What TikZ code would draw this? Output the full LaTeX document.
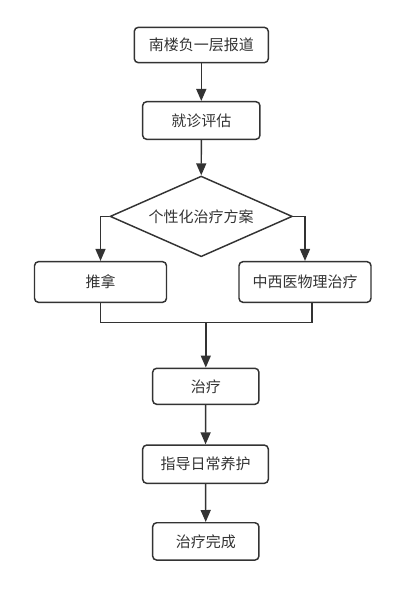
\documentclass[tikz,border=0pt]{standalone}
\usepackage{fontspec}
\setmainfont{Noto Sans CJK SC}
\usetikzlibrary{arrows.meta,shapes.geometric}
\definecolor{linegray}{HTML}{333333}

\begin{document}
\begin{tikzpicture}[x=0.75pt,y=-0.75pt,line width=1.1pt,draw=linegray,
    >={Triangle[length=9pt,width=7.5pt]},
    font=\fontsize{11.25}{13}\selectfont]
          \tikzstyle{stepbox}=[draw=linegray,rounded corners=3pt,inner sep=0pt,text=linegray]
          \tikzstyle{choice}=[draw=linegray,diamond,aspect=2.25,inner sep=0pt,text=linegray,
              minimum width=136.7pt,minimum height=60.5pt]
          \useasboundingbox (0,0) rectangle (400,589);
          \node[stepbox,minimum width=100.5pt,minimum height=26.5pt] (report) at (201.3,45) {南楼负一层报道};
          \node[stepbox,minimum width=88pt,minimum height=28.2pt] (assess) at (201.3,120.5) {就诊评估};
          \node[choice] (plan) at (201.2,216.4) {个性化治疗方案};
          \node[stepbox,minimum width=99pt,minimum height=30.5pt] (massage) at (100.5,282) {推拿};
          \node[stepbox,minimum width=99pt,minimum height=30.5pt] (physio) at (305,282) {中西医物理治疗};
          \node[stepbox,minimum width=79.7pt,minimum height=27pt] (treat) at (205.8,386.3) {治疗};
          \node[stepbox,minimum width=94.2pt,minimum height=28.7pt] (guide) at (205.5,464.2) {指导日常养护};
          \node[stepbox,minimum width=79.7pt,minimum height=28pt] (done) at (205.8,541.4) {治疗完成};
          \coordinate (join) at (205.8,322.7);
          \draw[->] (report) -- (assess);
          \draw[->] (assess) -- (plan);
          \draw[->] (plan.west) -| (massage.north);
          \draw[->] (plan.east) -| (physio.north);
          \draw (massage.south) |- (join);
          \draw ([xshift=5.25pt]physio.south) |- (join);
          \draw[->] (join) -- (treat);
          \draw[->] (treat) -- (guide);
          \draw[->] (guide) -- (done);
      \end{tikzpicture}
\end{document}
